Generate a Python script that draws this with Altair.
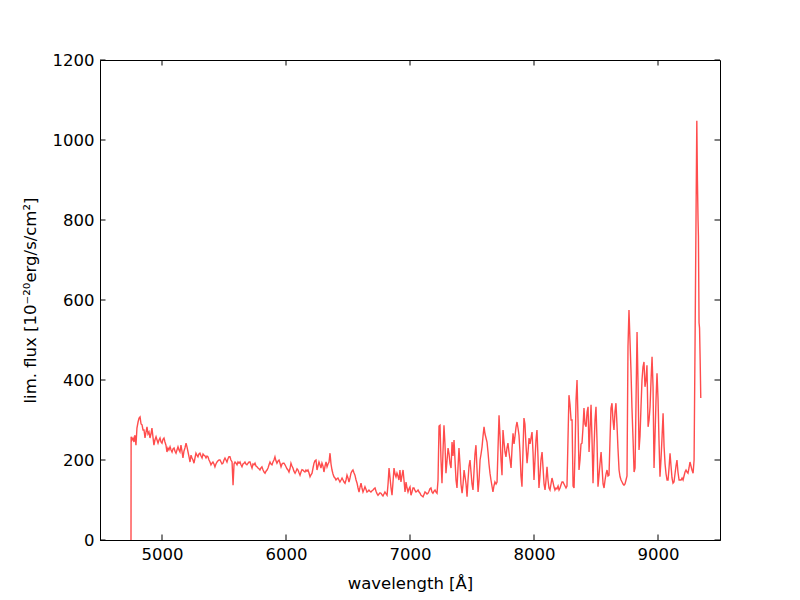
import altair as alt
import pandas as pd

wavelength = [
4750, 4751, 4758, 4766, 4774, 4782, 4790, 4798, 4807, 4815, 4823, 4831, 4839, 4847, 4855, 4863, 4871, 4879, 4887, 4895,
4903, 4911, 4919, 4927, 4935, 4943, 4952, 4960, 4968, 4976, 4984, 4992, 5000, 5008, 5016, 5024, 5032, 5040, 5048, 5056,
5065, 5073, 5081, 5089, 5097, 5105, 5113, 5121, 5129, 5137, 5145, 5153, 5161, 5169, 5177, 5185, 5194, 5202, 5210, 5218,
5226, 5234, 5242, 5250, 5258, 5266, 5274, 5282, 5290, 5298, 5306, 5315, 5323, 5331, 5339, 5347, 5355, 5363, 5371, 5379,
5387, 5395, 5403, 5411, 5419, 5427, 5435, 5444, 5452, 5460, 5468, 5476, 5484, 5492, 5500, 5508, 5516, 5524, 5532, 5540,
5548, 5556, 5565, 5573, 5581, 5589, 5597, 5605, 5613, 5621, 5629, 5637, 5645, 5653, 5661, 5669, 5677, 5685, 5694, 5702,
5710, 5718, 5726, 5734, 5742, 5750, 5758, 5766, 5774, 5782, 5790, 5798, 5806, 5815, 5823, 5831, 5839, 5847, 5855, 5863,
5871, 5879, 5887, 5895, 5903, 5911, 5919, 5927, 5935, 5944, 5952, 5960, 5968, 5976, 5984, 5992, 6000, 6008, 6016, 6024,
6032, 6040, 6048, 6056, 6064, 6073, 6081, 6089, 6097, 6105, 6113, 6121, 6129, 6137, 6145, 6153, 6161, 6169, 6177, 6185,
6194, 6202, 6210, 6218, 6226, 6234, 6242, 6250, 6258, 6266, 6274, 6282, 6290, 6298, 6306, 6315, 6323, 6331, 6339, 6347,
6355, 6363, 6371, 6379, 6387, 6395, 6403, 6411, 6419, 6427, 6435, 6444, 6452, 6460, 6468, 6476, 6484, 6492, 6500, 6508,
6516, 6524, 6532, 6540, 6548, 6556, 6565, 6573, 6581, 6589, 6597, 6605, 6613, 6621, 6629, 6637, 6645, 6653, 6661, 6669,
6677, 6685, 6694, 6702, 6710, 6718, 6726, 6734, 6742, 6750, 6758, 6766, 6774, 6782, 6790, 6798, 6806, 6815, 6823, 6831,
6839, 6847, 6855, 6863, 6871, 6879, 6887, 6895, 6903, 6911, 6919, 6927, 6935, 6944, 6952, 6960, 6968, 6976, 6984, 6992,
7000, 7008, 7016, 7024, 7032, 7040, 7048, 7056, 7065, 7073, 7081, 7089, 7097, 7105, 7113, 7121, 7129, 7137, 7145, 7153,
7161, 7169, 7177, 7185, 7194, 7202, 7210, 7218, 7226, 7234, 7242, 7250, 7258, 7266, 7274, 7282, 7290, 7299, 7307, 7315,
7323, 7331, 7339, 7347, 7355, 7363, 7371, 7379, 7387, 7395, 7403, 7411, 7420, 7428, 7436, 7444, 7452, 7460, 7468, 7476,
7484, 7492, 7500, 7508, 7516, 7524, 7532, 7540, 7549, 7557, 7565, 7573, 7581, 7589, 7597, 7605, 7613, 7621, 7629, 7637,
7645, 7653, 7661, 7669, 7677, 7685, 7694, 7702, 7710, 7718, 7726, 7734, 7742, 7750, 7758, 7766, 7774, 7782, 7790, 7798,
7807, 7815, 7823, 7831, 7839, 7847, 7855, 7863, 7871, 7879, 7887, 7895, 7903, 7911, 7919, 7927, 7935, 7944, 7952, 7960,
7968, 7976, 7984, 7992, 8000, 8008, 8016, 8024, 8032, 8040, 8048, 8056, 8065, 8073, 8081, 8089, 8097, 8105, 8113, 8121,
8129, 8137, 8145, 8153, 8161, 8169, 8177, 8185, 8194, 8202, 8210, 8218, 8226, 8234, 8242, 8250, 8258, 8266, 8274, 8282,
8290, 8299, 8307, 8315, 8323, 8331, 8339, 8347, 8355, 8363, 8371, 8379, 8387, 8395, 8403, 8411, 8420, 8428, 8436, 8444,
8452, 8460, 8468, 8476, 8484, 8492, 8500, 8508, 8516, 8524, 8532, 8541, 8549, 8557, 8565, 8573, 8581, 8589, 8597, 8605,
8613, 8621, 8629, 8637, 8645, 8653, 8661, 8669, 8677, 8686, 8694, 8702, 8710, 8718, 8726, 8734, 8742, 8750, 8758, 8766,
8774, 8782, 8790, 8799, 8807, 8815, 8823, 8831, 8839, 8847, 8855, 8863, 8871, 8879, 8887, 8895, 8903, 8911, 8920, 8928,
8936, 8944, 8952, 8960, 8968, 8976, 8984, 8992, 9000, 9008, 9016, 9024, 9033, 9041, 9049, 9057, 9065, 9073, 9081, 9089,
9097, 9105, 9113, 9121, 9129, 9137, 9145, 9153, 9161, 9170, 9178, 9186, 9194, 9202, 9210, 9218, 9226, 9234, 9242, 9250,
9258, 9266, 9274, 9283, 9291, 9299, 9307, 9313, 9318, 9323, 9326, 9331, 9335, 9340, 9345,
]

flux = [
0, 258, 250, 255, 245, 262, 237, 280, 295, 305, 308, 290, 288, 275, 275, 255, 270, 283, 265, 270,
255, 265, 280, 258, 237, 250, 258, 250, 242, 250, 255, 245, 242, 252, 255, 245, 237, 220, 230, 225,
233, 225, 220, 228, 230, 222, 217, 225, 233, 225, 220, 237, 222, 205, 222, 230, 242, 232, 220, 208,
195, 212, 205, 200, 192, 205, 217, 212, 208, 215, 217, 210, 205, 215, 212, 210, 205, 210, 208, 200,
195, 188, 192, 195, 190, 183, 190, 195, 198, 200, 200, 195, 190, 192, 200, 205, 200, 195, 203, 208,
208, 200, 195, 137, 190, 195, 192, 188, 195, 192, 195, 188, 183, 190, 192, 195, 190, 188, 192, 195,
195, 187, 180, 190, 188, 192, 185, 183, 180, 178, 175, 180, 183, 175, 170, 167, 172, 175, 180, 188,
195, 190, 188, 195, 200, 208, 198, 192, 197, 200, 192, 183, 190, 192, 192, 188, 183, 178, 175, 170,
178, 192, 185, 180, 172, 167, 172, 178, 175, 168, 162, 170, 176, 175, 172, 170, 175, 172, 175, 168,
158, 163, 167, 180, 192, 198, 200, 175, 185, 195, 188, 180, 192, 185, 170, 185, 195, 183, 190, 195,
217, 190, 175, 165, 158, 155, 150, 153, 155, 150, 145, 150, 155, 150, 145, 142, 150, 162, 155, 145,
155, 167, 172, 175, 168, 162, 150, 142, 130, 120, 132, 142, 130, 120, 126, 133, 127, 120, 122, 125,
122, 120, 123, 125, 128, 130, 122, 116, 112, 115, 118, 117, 113, 110, 115, 120, 116, 112, 140, 180,
155, 130, 112, 145, 180, 165, 158, 167, 160, 150, 175, 145, 160, 175, 148, 120, 145, 130, 120, 128,
133, 112, 120, 130, 130, 124, 120, 122, 125, 120, 117, 112, 110, 108, 114, 120, 118, 115, 117, 122,
128, 130, 120, 117, 122, 125, 120, 117, 150, 285, 287, 200, 142, 220, 287, 240, 167, 200, 230, 215,
190, 180, 245, 210, 250, 200, 150, 130, 180, 230, 190, 140, 117, 140, 175, 158, 140, 108, 150, 185,
200, 170, 140, 125, 170, 215, 237, 180, 120, 150, 200, 215, 233, 260, 283, 265, 255, 245, 220, 190,
167, 150, 135, 120, 135, 145, 140, 145, 230, 312, 260, 200, 162, 275, 245, 220, 208, 230, 242, 220,
200, 180, 230, 267, 240, 260, 282, 295, 280, 262, 220, 160, 133, 220, 305, 290, 240, 192, 220, 255,
240, 255, 270, 220, 150, 200, 250, 275, 210, 130, 160, 200, 220, 180, 140, 125, 150, 183, 150, 130,
125, 140, 155, 145, 133, 125, 130, 128, 135, 125, 130, 138, 145, 145, 140, 135, 130, 135, 250, 362,
340, 300, 300, 135, 130, 220, 350, 400, 300, 175, 200, 240, 242, 280, 330, 290, 283, 320, 333, 220,
280, 338, 250, 142, 230, 300, 333, 250, 133, 160, 190, 220, 180, 140, 130, 150, 165, 175, 160, 162,
250, 330, 342, 300, 275, 320, 342, 290, 230, 175, 158, 150, 145, 140, 137, 140, 150, 160, 483, 575,
500, 425, 330, 250, 170, 180, 350, 520, 392, 225, 260, 333, 400, 433, 445, 383, 400, 437, 283, 300,
333, 400, 458, 383, 180, 260, 350, 417, 355, 250, 158, 200, 260, 317, 233, 190, 165, 150, 150, 180,
217, 185, 155, 142, 145, 165, 185, 200, 170, 150, 150, 150, 155, 150, 160, 170, 175, 170, 167, 180,
195, 185, 175, 167, 200, 500, 820, 1048, 900, 800, 760, 543, 530, 450, 355,
]

x_ticks = [5000, 6000, 7000, 8000, 9000]
y_ticks = [0, 200, 400, 600, 800, 1000, 1200]

W, H = 620, 480
TICK = 5.5

spec = pd.DataFrame({"wavelength": wavelength, "flux": flux})
xt = pd.DataFrame({"wavelength": x_ticks})
yt = pd.DataFrame({"flux": y_ticks})

X = alt.X(
    "wavelength:Q",
    scale=alt.Scale(domain=[4500, 9500], nice=False, zero=False),
    axis=alt.Axis(values=x_ticks, title="wavelength [Å]", format="d",
                  labelPadding=6, titlePadding=13, labelFlush=False),
)
Y = alt.Y(
    "flux:Q",
    scale=alt.Scale(domain=[0, 1200], nice=False),
    axis=alt.Axis(values=y_ticks, title="lim. flux [10⁻²⁰erg/s/cm²]", format="d",
                  labelPadding=6, titlePadding=14),
)

line = alt.Chart(spec).mark_line(
    color="#ff0000", opacity=0.7, strokeWidth=1.4, interpolate="linear"
).encode(x=X, y=Y)

tick_style = dict(color="black", strokeWidth=1)
bottom = alt.Chart(xt).mark_rule(**tick_style).encode(
    x=X, y=alt.value(H), y2=alt.value(H - TICK))
top = alt.Chart(xt).mark_rule(**tick_style).encode(
    x=X, y=alt.value(0), y2=alt.value(TICK))
left = alt.Chart(yt).mark_rule(**tick_style).encode(
    y=Y, x=alt.value(0), x2=alt.value(TICK))
right = alt.Chart(yt).mark_rule(**tick_style).encode(
    y=Y, x=alt.value(W), x2=alt.value(W - TICK))

chart = alt.layer(line, bottom, top, left, right).properties(
    width=W, height=H,
    background="white",
    autosize=alt.AutoSizeParams(type="none"),
    padding={"left": 92, "top": 52, "right": 72, "bottom": 60},
).configure_view(
    stroke="black", strokeWidth=1
).configure_axis(
    labelFont="DejaVu Sans", labelFontSize=16.5, labelColor="black",
    titleFont="DejaVu Sans", titleFontSize=16.5, titleFontWeight="normal",
    titleColor="black", domainColor="black", domainWidth=1,
    ticks=False, grid=False, labelOverlap=False,
)

chart.save("out.html", embed_options={"renderer": "svg", "actions": False})
